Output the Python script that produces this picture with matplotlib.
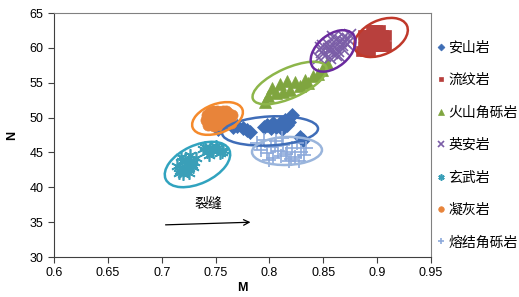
import matplotlib

matplotlib.use("Agg")
import matplotlib.pyplot as plt
from matplotlib.patches import Ellipse
from matplotlib.transforms import ScaledTranslation

plt.rcParams["font.family"] = ["Liberation Sans", "Noto Sans CJK SC", "DejaVu Sans"]

# 安山岩
AND_M = [0.752, 0.757, 0.761, 0.766, 0.770, 0.775, 0.779, 0.782, 0.795, 0.798, 0.801,
         0.803, 0.806, 0.810, 0.812, 0.814, 0.816, 0.818, 0.821, 0.828, 0.831]
AND_N = [48.4, 48.9, 49.2, 48.6, 48.8, 48.5, 48.2, 47.9, 48.6, 48.9, 48.5,
         49.2, 48.7, 49.2, 48.4, 49.7, 48.9, 49.3, 50.4, 47.2, 46.8]

# 流纹岩
RHY_M = [0.894, 0.897, 0.900, 0.903,
         0.887, 0.890, 0.893, 0.896, 0.899, 0.902, 0.905, 0.908,
         0.888, 0.891, 0.894, 0.897, 0.900, 0.903, 0.906,
         0.887, 0.890, 0.893, 0.896, 0.899, 0.902, 0.905, 0.908,
         0.885, 0.889, 0.893]
RHY_N = [62.6, 62.6, 62.6, 62.6,
         61.8, 61.8, 61.8, 61.8, 61.8, 61.8, 61.8, 61.8,
         61.0, 61.0, 61.0, 61.0, 61.0, 61.0, 61.0,
         60.2, 60.2, 60.2, 60.2, 60.2, 60.2, 60.2, 60.2,
         59.6, 59.6, 59.6]

# 火山角砾岩
BRE_M = [0.796, 0.799, 0.802, 0.806, 0.810, 0.813, 0.816, 0.819,
         0.824, 0.828, 0.833, 0.836, 0.840, 0.845, 0.849, 0.853]
BRE_N = [52.2, 53.1, 54.2, 53.5, 54.8, 53.7, 55.3, 54.0,
         55.1, 54.5, 55.4, 54.9, 56.0, 56.3, 56.8, 57.8]

# 英安岩
DAC_M = [0.846, 0.849, 0.852, 0.855, 0.858, 0.861, 0.864, 0.867, 0.870, 0.873,
         0.850, 0.854, 0.857, 0.860, 0.863, 0.866, 0.869, 0.872, 0.875,
         0.848, 0.856, 0.862, 0.868, 0.859, 0.865]
DAC_N = [58.6, 59.4, 58.9, 59.8, 59.2, 60.1, 59.6, 60.4, 60.8, 61.2,
         60.2, 60.6, 60.0, 60.9, 61.3, 61.0, 61.6, 60.5, 61.8,
         60.0, 58.6, 59.0, 59.9, 61.5, 58.9]

# 玄武岩
BAS_M = [0.714, 0.717, 0.719, 0.721, 0.723, 0.725, 0.727, 0.729, 0.718, 0.722,
         0.726, 0.730, 0.716, 0.720, 0.724, 0.728, 0.732, 0.738, 0.742, 0.745,
         0.748, 0.751, 0.754, 0.757, 0.744, 0.750, 0.756, 0.740]
BAS_N = [43.0, 42.4, 43.8, 42.8, 43.4, 42.1, 43.9, 42.9, 44.4, 44.0,
         44.6, 43.6, 42.0, 41.9, 42.6, 43.2, 44.2, 45.5, 45.0, 45.8,
         45.2, 45.6, 44.9, 45.4, 44.6, 45.9, 45.1, 45.8]

# 凝灰岩
TUF_M = [0.741, 0.744, 0.747, 0.750, 0.753, 0.756, 0.759, 0.762, 0.765,
         0.743, 0.746, 0.749, 0.752, 0.755, 0.758, 0.761, 0.764,
         0.745, 0.748, 0.751, 0.754, 0.757, 0.760, 0.742, 0.750, 0.758]
TUF_N = [49.6, 50.2, 49.8, 50.4, 49.9, 50.6, 50.1, 50.7, 50.3,
         48.9, 49.2, 48.8, 49.3, 49.0, 49.4, 49.6, 49.2,
         50.8, 50.9, 51.0, 50.8, 50.9, 51.0, 50.4, 49.6, 49.8]

# 熔结角砾岩
WEL_M = [0.788, 0.792, 0.795, 0.798, 0.801, 0.803, 0.806, 0.808, 0.811, 0.813,
         0.816, 0.818, 0.821, 0.824, 0.826, 0.829, 0.832, 0.834, 0.800, 0.812,
         0.820, 0.805, 0.815, 0.827]
WEL_N = [46.3, 45.4, 46.8, 44.9, 45.8, 44.2, 46.6, 45.2, 44.5, 46.0,
         45.1, 43.8, 45.6, 44.4, 46.3, 45.0, 44.6, 45.7, 43.9, 47.1,
         44.0, 45.9, 44.8, 43.7]

# group outlines: centre (M, N), size in pixels, tilt in degrees
ELL_M = [0.8006, 0.9036, 0.8187, 0.8591, 0.7332, 0.7518, 0.8163]
ELL_N = [48.08, 61.49, 54.96, 59.56, 43.27, 49.87, 45.21]
ELL_W = [96, 57, 80, 52, 70, 53, 70]
ELL_H = [29, 34, 30, 32, 38, 29, 28]
ELL_A = [3, 25, 24, 40, 25, 20, 2]
ELL_C = ["#3F6DB8", "#C0392B", "#8DB64A", "#6A2A9E", "#31A3BF", "#F58A2C", "#9AB5DC"]

SERIES = [
    ("安山岩", AND_M, AND_N, "D", "#3E6DB5", 7),
    ("流纹岩", RHY_M, RHY_N, "s", "#B8403D", 7),
    ("火山角砾岩", BRE_M, BRE_N, "^", "#7FA53F", 9),
    ("英安岩", DAC_M, DAC_N, "x", "#7B5EA7", 9),
    ("玄武岩", BAS_M, BAS_N, (6, 2, 0), "#3A9FB8", 9),
    ("凝灰岩", TUF_M, TUF_N, "o", "#E8843A", 8),
    ("熔结角砾岩", WEL_M, WEL_N, "+", "#8EAADB", 10),
]

fig = plt.figure(figsize=(5.19, 2.97), dpi=100)
ax = fig.add_axes([54 / 519, 40 / 297, 377 / 519, 244 / 297])

for label, m, n, mk, col, size in SERIES:
    line_marker = mk in ("x", "+") or isinstance(mk, tuple)
    ax.plot(m, n, linestyle="none", marker=mk, markersize=size, color=col,
            markeredgecolor=col, markeredgewidth=1.2 if line_marker else 0.5,
            label=label)

for cm, cn, w, h, a, c in zip(ELL_M, ELL_N, ELL_W, ELL_H, ELL_A, ELL_C):
    tr = fig.dpi_scale_trans + ScaledTranslation(cm, cn, ax.transData)
    ax.add_patch(Ellipse((0, 0), w / 100, h / 100, angle=a, transform=tr,
                         fill=False, edgecolor=c, lw=1.8, zorder=5))

ax.annotate("", xy=(0.785, 35.0), xytext=(0.701, 34.6),
            arrowprops=dict(arrowstyle="->", color="black", lw=0.9))
ax.text(0.743, 37.6, "裂缝", ha="center", va="center", fontsize=10,
        family=["Noto Sans CJK SC", "DejaVu Sans"])

ax.set_xlim(0.6, 0.95)
ax.set_ylim(30, 65)
ax.set_xticks([0.6, 0.65, 0.7, 0.75, 0.8, 0.85, 0.9, 0.95])
ax.set_xticklabels(["0.6", "0.65", "0.7", "0.75", "0.8", "0.85", "0.9", "0.95"])
ax.set_yticks(range(30, 66, 5))
ax.tick_params(direction="out", length=4, width=0.8, labelsize=9, colors="#404040",
               labelcolor="black")
for side in ("left", "bottom"):
    ax.spines[side].set_color("#404040")
for side in ("top", "right"):
    ax.spines[side].set_color("#808080")
ax.set_xlabel("M", fontsize=9, fontweight="bold", labelpad=2)
ax.set_ylabel("N", fontsize=9, fontweight="bold", labelpad=8)

ax.legend(loc="upper left", bbox_to_anchor=(1.003, 0.91), frameon=False,
          prop={"family": ["Noto Sans CJK SC", "DejaVu Sans"], "size": 10},
          handlelength=0.5, handletextpad=0.25, labelspacing=1.33, markerscale=0.5,
          borderaxespad=0)

fig.savefig("out.png", dpi=100)
